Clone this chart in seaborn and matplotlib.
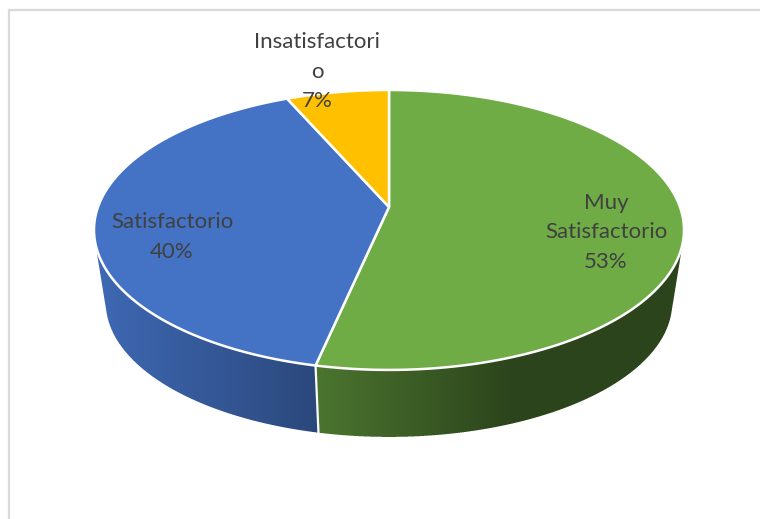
import numpy as np
import matplotlib
matplotlib.use("Agg")
import matplotlib.pyplot as plt
from matplotlib.patches import Polygon
from matplotlib.path import Path
from matplotlib.colors import to_rgb
import seaborn as sns

# Data (labels show rounded shares)
categories = ["Muy\nSatisfactorio", "Satisfactorio", "Insatisfactori\no"]
shares = [53.4, 40.0, 6.6]
shown = ["53%", "40%", "7%"]
colors = ["#6FAC46", "#4472C4", "#FFC000"]
label_xy = [(606, 232.5), (172, 237), (317, 71.5)]

W, H = 761, 519
sns.set_theme(style="white")
plt.rcParams["font.family"] = ["Lato", "DejaVu Sans"]

fig = plt.figure(figsize=(W / 100, H / 100), dpi=100, facecolor="white")
ax = fig.add_axes([0, 0, 1, 1])
ax.axis("off")

# frame of the chart area
ax.plot([8.5, 8.5, W - 1], [H, 10, 10], color="#d9d9d9", lw=1.6, solid_capstyle="butt",
        solid_joinstyle="miter", zorder=1)

CX, CY, R, K, C = 389.0, 207.0, 291.0, 136.2, 0.164
VY, SHRINK = 2045.0, 0.96


def top_pt(a):
    """Clockwise angle from 12 o'clock -> picture position on the tilted disc."""
    x, y = np.sin(a), np.cos(a)
    w = 1 + C * y
    return np.array([CX + R * x / w, CY - K * y / w])


def bottom_pt(a):
    x, y = top_pt(a)
    return np.array([CX + SHRINK * (x - CX), VY + SHRINK * (y - VY)])


def shade(name, x):
    if name == colors[1]:
        f = np.interp(x, [95, 320], [0.92, 0.63])
    else:
        f = np.interp(x, [316, 510], [0.68, 0.40])
    return np.array(to_rgb(name))[None, :] * f[:, None]


def convex_hull(points):
    pts = sorted(map(tuple, points))
    def half(seq):
        out = []
        for p in seq:
            while len(out) > 1 and ((out[-1][0] - out[-2][0]) * (p[1] - out[-2][1])
                                    - (out[-1][1] - out[-2][1]) * (p[0] - out[-2][0])) <= 0:
                out.pop()
            out.append(p)
        return out[:-1]
    return half(pts) + half(pts[::-1])


edges = np.deg2rad(np.cumsum([0] + shares) * 3.6)
ring = np.linspace(0, 2 * np.pi, 720, endpoint=False)
hull = convex_hull([top_pt(a) for a in ring] + [bottom_pt(a) for a in ring])

# side wall as an antialiased image, shaded left to right per slice
SS = 4
xs = (np.arange(W * SS) + 0.5) / SS
ys = (np.arange(H * SS) + 0.5) / SS
gx, gy = np.meshgrid(xs, ys)
inside = Path(hull).contains_points(np.c_[gx.ravel(), gy.ravel()]).reshape(gx.shape)
alpha = inside.reshape(H, SS, W, SS).mean(axis=(1, 3))

seam = edges[1]
s0, s1 = top_pt(seam), bottom_pt(seam)
pxs = np.arange(W) + 0.5
pys = np.arange(H) + 0.5
seam_x = s0[0] + (pys - s0[1]) * (s1[0] - s0[0]) / (s1[1] - s0[1])
rgba = np.zeros((H, W, 4))
green = shade(colors[0], pxs)
blue = shade(colors[1], pxs)
rgba[..., :3] = np.where((pxs[None, :] > seam_x[:, None])[..., None], green[None, :, :], blue[None, :, :])
rgba[..., 3] = alpha
ax.imshow(rgba, extent=(0, W, H, 0), aspect="auto", interpolation="nearest", zorder=2)
ax.set_xlim(0, W)
ax.set_ylim(H, 0)

# white seam on the wall between green and blue
ax.plot([s0[0], s1[0]], [s0[1], s1[1]], color="white", lw=1.6, zorder=3)

# top faces
for i, col in enumerate(colors):
    grid = np.linspace(edges[i], edges[i + 1], 300)
    pts = [(CX, CY)] + [tuple(top_pt(a)) for a in grid]
    ax.add_patch(Polygon(pts, closed=True, fc=col, ec="white", lw=1.8,
                         joinstyle="round", zorder=4))

# labels
for (x, y), cat, val in zip(label_xy, categories, shown):
    ax.text(x, y, f"{cat}\n{val}", ha="center", va="center", fontsize=16,
            color="#404040", linespacing=1.6, zorder=5)

fig.savefig("out.png", dpi=100, facecolor="white")
